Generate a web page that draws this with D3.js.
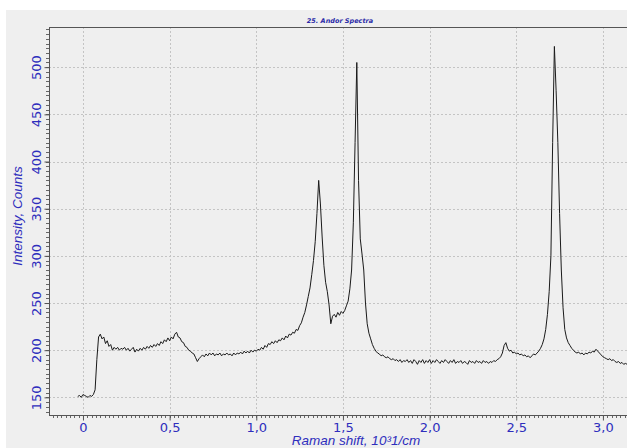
<!DOCTYPE html>
<html><head><meta charset="utf-8">
<script src="https://cdn.jsdelivr.net/npm/d3@7"></script>
<style>
html,body{margin:0;padding:0;background:#fff;}
svg{display:block;}
</style></head>
<body>
<svg id="chart" width="627" height="448"></svg>
<script>
// ---- data ----
const chartTitle = "25. Andor Spectra";
const xLabel = "Raman shift, 10³1/cm";
const yLabel = "Intensity, Counts";
const xTicks = [0, 0.5, 1.0, 1.5, 2.0, 2.5, 3.0];
const xTickLabels = ["0", "0,5", "1,0", "1,5", "2,0", "2,5", "3,0"];
const yTicks = [150, 200, 250, 300, 350, 400, 450, 500];
const yTickLabels = ["150", "200", "250", "300", "350", "400", "450", "500"];
const shiftStart = -0.03;   // 10^3 1/cm, first sample
const shiftStep = 0.01;     // sample spacing
const intensity = [
 151,152,150,153,152,151,150,152,151,153,            // -0.03 .. 0.06
 158,190,214,217,212,214,207,210,204,206,            // 0.07 .. 0.16
 200,203,201,203,200,202,201,203,200,202,            // 0.17 .. 0.26
 199,201,203,198,201,199,202,200,203,201,            // 0.27 .. 0.36
 204,202,205,203,206,204,207,205,209,207,            // 0.37 .. 0.46
 211,209,213,210,214,212,217,219,214,213,            // 0.47 .. 0.56
 209,208,204,203,200,199,197,196,192,188,            // 0.57 .. 0.66
 191,193,195,193,196,194,197,195,197,194,            // 0.67 .. 0.76
 196,195,197,194,196,195,197,195,196,194,            // 0.77 .. 0.86
 197,195,197,196,198,196,199,197,199,197,            // 0.87 .. 0.96
 200,198,200,199,201,200,203,201,205,203,            // 0.97 .. 1.06
 207,206,209,207,210,208,211,210,213,211,            // 1.07 .. 1.16
 215,213,217,216,219,218,222,221,226,229,            // 1.17 .. 1.26
 235,240,248,257,266,280,295,315,345,380,            // 1.27 .. 1.36
 355,320,290,272,262,248,228,236,238,235,            // 1.37 .. 1.46
 240,237,241,239,242,247,252,265,285,335,            // 1.47 .. 1.56
 420,505,380,318,302,285,250,228,218,212,            // 1.57 .. 1.66
 206,202,199,197,196,194,195,193,192,193,            // 1.67 .. 1.76
 191,190,191,189,190,188,190,187,189,188,            // 1.77 .. 1.86
 190,187,189,186,190,188,185,189,187,190,            // 1.87 .. 1.96
 186,189,187,190,186,189,187,190,188,186,            // 1.97 .. 2.06
 189,187,190,188,186,189,187,190,186,188,            // 2.07 .. 2.16
 187,189,186,188,187,185,189,187,188,186,            // 2.17 .. 2.26
 189,187,188,186,189,187,188,186,188,187,            // 2.27 .. 2.36
 189,188,190,191,193,197,205,208,202,199,            // 2.37 .. 2.46
 200,197,198,196,197,195,196,194,195,193,            // 2.47 .. 2.56
 194,192,194,196,195,197,199,202,206,212,            // 2.57 .. 2.66
 222,238,262,300,420,522,475,420,345,285,            // 2.67 .. 2.76
 245,222,213,208,205,202,200,198,197,198,            // 2.77 .. 2.86
 196,197,195,197,196,198,197,199,198,201,            // 2.87 .. 2.96
 199,197,195,193,192,191,190,191,189,190,            // 2.97 .. 3.06
 188,187,188,186,187,185,186,185                     // 3.07 .. 3.14
];
const spectrum = intensity.map((v, i) => ({ x: shiftStart + i * shiftStep, y: v }));

// ---- layout ----
const W = 627, H = 448;
const panel = { x: 6, y: 10 };
const plot = { left: 49, top: 27, right: 627, bottom: 415 };
const blue = "#2e2ebd";
const svg = d3.select("#chart");

svg.append("rect").attr("x", panel.x).attr("y", panel.y)
  .attr("width", W - panel.x).attr("height", H - panel.y).attr("fill", "#efefef");

const x = d3.scaleLinear().domain([-0.196, 3.139]).range([plot.left, plot.right]);
const y = d3.scaleLinear().domain([131.3, 542.6]).range([plot.bottom, plot.top]);

// grid
const grid = svg.append("g");
grid.selectAll(".gx").data(xTicks).join("line")
  .attr("x1", d => Math.round(x(d)) + 0.5).attr("x2", d => Math.round(x(d)) + 0.5)
  .attr("y1", plot.top).attr("y2", plot.bottom)
  .attr("stroke", "#c4c4c4").attr("stroke-dasharray", "2,2");
grid.selectAll(".gy").data(yTicks).join("line")
  .attr("y1", d => Math.round(y(d)) + 0.5).attr("y2", d => Math.round(y(d)) + 0.5)
  .attr("x1", plot.left).attr("x2", plot.right)
  .attr("stroke", "#c4c4c4").attr("stroke-dasharray", "2,2");

// top border
svg.append("line").attr("x1", plot.left).attr("x2", plot.right)
  .attr("y1", plot.top + 0.5).attr("y2", plot.top + 0.5).attr("stroke", "#555");

// minor ticks
const xMinor = d3.range(-0.175, 3.139, 0.025);
const yMinor = d3.range(135, 542, 5);
svg.append("g").selectAll("line").data(xMinor).join("line")
  .attr("x1", d => Math.round(x(d)) + 0.5).attr("x2", d => Math.round(x(d)) + 0.5)
  .attr("y1", plot.bottom).attr("y2", plot.bottom + 3).attr("stroke", "#666");
svg.append("g").selectAll("line").data(yMinor).join("line")
  .attr("y1", d => Math.round(y(d)) + 0.5).attr("y2", d => Math.round(y(d)) + 0.5)
  .attr("x1", plot.left - 3).attr("x2", plot.left).attr("stroke", "#666");

// axes
const xAxis = d3.axisBottom(x).tickValues(xTicks).tickSize(5).tickPadding(2)
  .tickFormat((d, i) => xTickLabels[i]);
const gx = svg.append("g").attr("transform", `translate(0,${plot.bottom + 0.5})`).call(xAxis);
gx.select(".domain").attr("stroke", "#555").attr("d", `M${plot.left},0H${plot.right}`);
gx.selectAll(".tick line").attr("stroke", "#555");
gx.selectAll("text").attr("fill", blue).attr("font-family", "DejaVu Sans, Verdana, sans-serif")
  .attr("font-size", 13);

const yAxis = d3.axisLeft(y).tickValues(yTicks).tickSize(5).tickPadding(4)
  .tickFormat((d, i) => yTickLabels[i]);
const gy = svg.append("g").attr("transform", `translate(${plot.left + 0.5},0)`).call(yAxis);
gy.select(".domain").attr("stroke", "#555").attr("d", `M0,${plot.top}V${plot.bottom}`);
gy.selectAll(".tick line").attr("stroke", "#555");
gy.selectAll(".tick text")
  .attr("fill", blue).attr("font-family", "DejaVu Sans, Verdana, sans-serif")
  .attr("font-size", 13).attr("text-anchor", "middle")
  .attr("x", 0).attr("y", 0).attr("dy", "0.35em")
  .attr("transform", "translate(-13,0) rotate(-90)");

// line
const clipId = "plotclip";
svg.append("clipPath").attr("id", clipId).append("rect")
  .attr("x", plot.left).attr("y", plot.top).attr("width", plot.right - plot.left).attr("height", plot.bottom - plot.top);
svg.append("path").datum(spectrum)
  .attr("clip-path", `url(#${clipId})`)
  .attr("fill", "none").attr("stroke", "#1a1a1a").attr("stroke-width", 1)
  .attr("d", d3.line().x(d => x(d.x)).y(d => y(d.y)));

// title
svg.append("text").attr("x", 340).attr("y", 23).attr("text-anchor", "middle")
  .attr("fill", "#2b2ba8").attr("font-family", "DejaVu Sans, Verdana, sans-serif")
  .attr("font-size", 6.5).attr("font-weight", "bold").attr("font-style", "italic")
  .text(chartTitle);

// axis labels
svg.append("text").attr("x", 356).attr("y", 445).attr("text-anchor", "middle")
  .attr("fill", blue).attr("font-family", "Liberation Sans, Arial, sans-serif")
  .attr("font-size", 13.5).attr("font-style", "italic").text(xLabel);
svg.append("text").attr("transform", "translate(22,216) rotate(-90)").attr("text-anchor", "middle")
  .attr("fill", blue).attr("font-family", "Liberation Sans, Arial, sans-serif")
  .attr("font-size", 13.5).attr("font-style", "italic").text(yLabel);
</script>
</body></html>
